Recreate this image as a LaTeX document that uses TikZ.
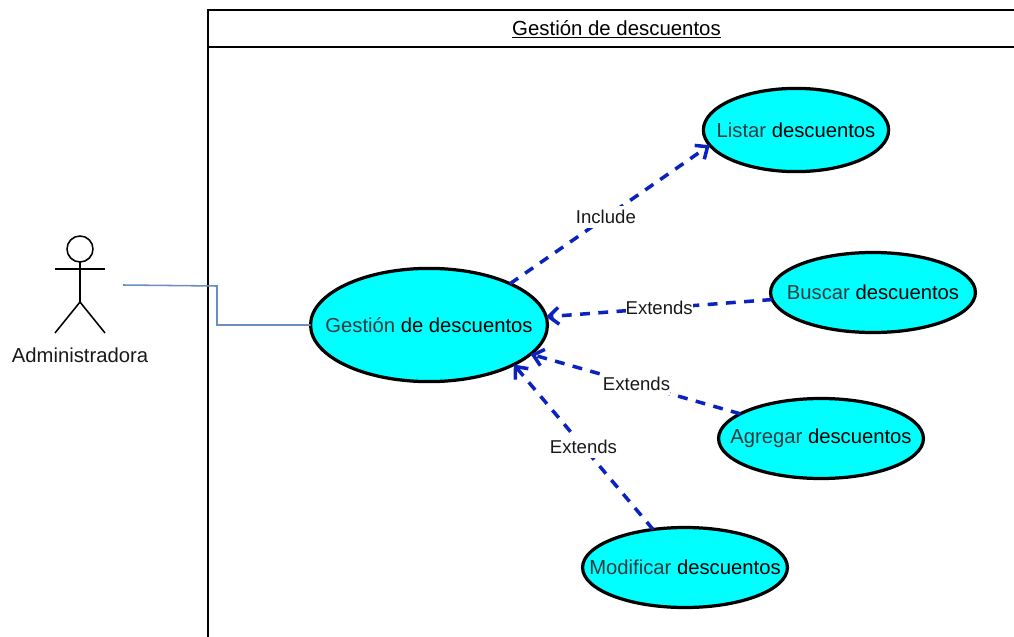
\documentclass[tikz,border=0pt]{standalone}
\usepackage{fontspec}
\setmainfont{Liberation Sans}
\usepackage{xcolor}
\usetikzlibrary{arrows.meta}
\usetikzlibrary{shapes.geometric}
\definecolor{usecasefill}{HTML}{00FFFF}
\definecolor{depblue}{HTML}{0A22BE}
\definecolor{linkblue}{HTML}{6C8EBF}
\definecolor{softtext}{HTML}{33393D}
\newcommand{\casetext}[2]{\makebox[0pt]{{\color{softtext}#1} #2}}
\tikzset{
 usecase/.style={ellipse, draw=black, fill=usecasefill, line width=2.3pt, inner sep=0, outer sep=0, minimum width=5.12cm, minimum height=2cm, font=\fontsize{14.4}{17}\selectfont},
 deplabel/.style={fill=white, inner xsep=0pt, inner ysep=3pt, text=black!90, font=\fontsize{13.2}{16}\selectfont},
 dep/.style={depblue, line width=2.5pt, dash pattern=on 7pt off 6pt, -{Straight Barb[length=7pt,width=12pt]}},
}

\begin{document}
\begin{tikzpicture}[x=.025cm, y=-.025cm]
\useasboundingbox (0,0) rectangle (1014,637);
\draw[black, line width=1.4pt] (208,637)--(208,10)--(1014,10);
\draw[black, line width=1.4pt] (208,47)--(1014,47);
\node (title) at (616.5,29) [font=\fontsize{14.5}{17}\selectfont] {\underline{Gestión de descuentos}};
% actor
\draw[black, line width=1.1pt] (80,249) circle (13);
\draw[black, line width=1.1pt] (80,262)--(80,302) (55,269)--(105,269);
\draw[black, line width=1.1pt] (55,333)--(80,302)--(105,333);
\node (admin) at (80,355) [font=\fontsize{14.4}{17}\selectfont, text=black!90] {Administradora};
\coordinate (adminlink) at (123,285);
% use cases
\node[usecase, minimum width=5.92cm, minimum height=2.83cm] (gestion) at (429,325) {\casetext{Gestión}{de descuentos}};
\node[usecase, minimum width=4.63cm, minimum height=2.08cm] (listar) at (796,130) {\casetext{Listar}{descuentos}};
\node[usecase] (buscar) at (873,292.5) {\casetext{Buscar}{descuentos}};
\node[usecase] (agregar) at (821,438.5) {\casetext{Agregar}{descuentos}};
\node[usecase] (modificar) at (685,567.5) {\casetext{Modificar}{descuentos}};
\draw[linkblue, line width=1.1pt] (adminlink)--(217,286)--(217,325)--(gestion.west);
\draw[dep] (gestion.27)--(listar.190) node[deplabel, pos=.48] (include) {Include};
\foreach \from/\fromangle/\toangle/\where/\name in {buscar/184/4/.5/extbuscar, agregar/163/-16/.495/extagregar, modificar/130/-25/.5/extmodificar} {
 \draw[dep] (\from.\fromangle)--(gestion.\toangle) node[deplabel, pos=\where] (\name) {Extends};
}
\end{tikzpicture}
\end{document}
